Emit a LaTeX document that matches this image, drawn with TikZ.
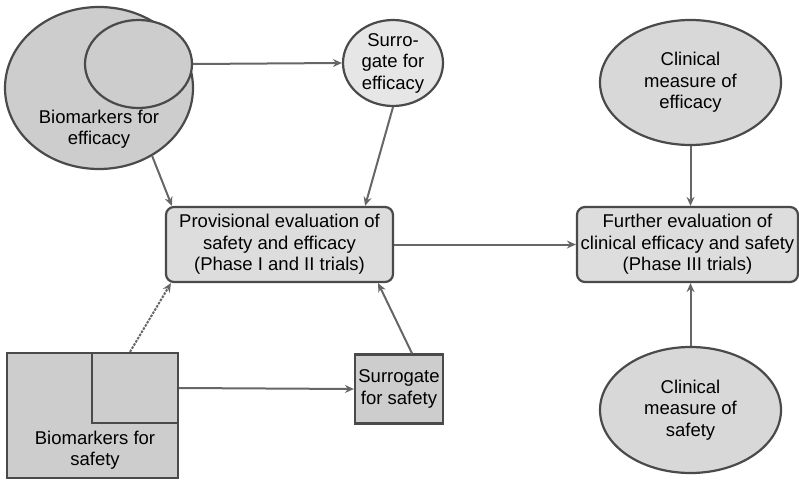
\documentclass[tikz,border=0pt]{standalone}
\usepackage{fontspec}
\setmainfont{Liberation Sans}
\usetikzlibrary{shapes.geometric,arrows.meta}

\definecolor{edgegray}{HTML}{4A4A4A}
\definecolor{arrowgray}{HTML}{666666}
\definecolor{fillmid}{HTML}{CDCDCD}
\definecolor{filllight}{HTML}{E6E6E6}
\definecolor{fillbox}{HTML}{DDDDDD}
\definecolor{fillclin}{HTML}{D8D8D8}

\tikzset{
  blob/.style={draw=edgegray, line width=2.2pt, inner sep=0pt},
  oval/.style={blob, ellipse},
  sqbox/.style={blob, rectangle, fill=fillmid},
  stagebox/.style={blob, rectangle, rounded corners=8pt, fill=fillbox},
  txt/.style={align=center, inner sep=0pt, font=\fontsize{18.5}{21.5}\selectfont},
  flow/.style={draw=arrowgray, line width=2pt,
    -{Stealth[length=9pt,width=8pt,inset=3pt]}},
  dashflow/.style={flow, dash pattern=on 2.5pt off 1.2pt}
}

\begin{document}
\begin{tikzpicture}[x=1pt,y=-1pt]
\useasboundingbox (0,0) rectangle (799,481);

% efficacy biomarkers: outer set with its surrogate subset
\node[oval, fill=fillmid, minimum width=188pt, minimum height=162pt] (bioeff) at (99,88) {};
\node[oval, fill=fillmid, minimum width=107pt, minimum height=88pt] (subeff) at (138.5,64) {};
\node[txt] (bioefftext) at (99,129) {Biomarkers for\\efficacy};

% surrogate for efficacy
\node[oval, fill=filllight, minimum width=100pt, minimum height=86pt, txt] (surreff) at (393,63) {Surro-\\gate for\\efficacy};

% safety biomarkers: outer square with its surrogate subset
\node[sqbox, minimum width=171pt, minimum height=125pt] (biosaf) at (92.5,415.5) {};
\node[sqbox, minimum width=86pt, minimum height=70pt] (subsaf) at (135,388) {};
\node[txt] (biosaftext) at (95,450) {Biomarkers for\\safety};

% surrogate for safety
\node[sqbox, minimum width=88pt, minimum height=69pt, txt] (surrsaf) at (399,389) {Surrogate\\for safety};

% trial stages
\node[stagebox, minimum width=227pt, minimum height=75pt, txt] (prov) at (279.5,244.5)
  {Provisional evaluation of\\safety and efficacy\\(Phase I and II trials)};
\node[stagebox, minimum width=221pt, minimum height=75pt, txt] (further) at (687.5,244.5)
  {Further evaluation of\\clinical efficacy and safety\\(Phase III trials)};

% clinical measures
\node[oval, fill=fillclin, minimum width=181pt, minimum height=125pt, txt] (clineff) at (690.5,82.5)
  {Clinical\\measure of\\efficacy};
\node[oval, fill=fillclin, minimum width=181pt, minimum height=126pt, txt] (clinsaf) at (690.5,410)
  {Clinical\\measure of\\safety};

% connectors
\draw[flow] (subeff.east) -- (surreff.west);
\draw[flow] (bioeff.-52) -- ([xshift=7pt]prov.north west);
\draw[flow] (surreff.south) -- ([xshift=-29pt]prov.north east);
\draw[dashflow] ([xshift=37.5pt]biosaf.north) -- ([xshift=6pt]prov.south west);
\draw[flow] ([xshift=13pt]surrsaf.north) -- ([xshift=-16pt]prov.south east);
\draw[flow] (subsaf.east) -- (surrsaf.west);
\draw[flow] (prov.east) -- (further.west);
\draw[flow] (clineff.south) -- (clineff.south |- further.north);
\draw[flow] (clinsaf.north) -- (clinsaf.north |- further.south);
\end{tikzpicture}
\end{document}
